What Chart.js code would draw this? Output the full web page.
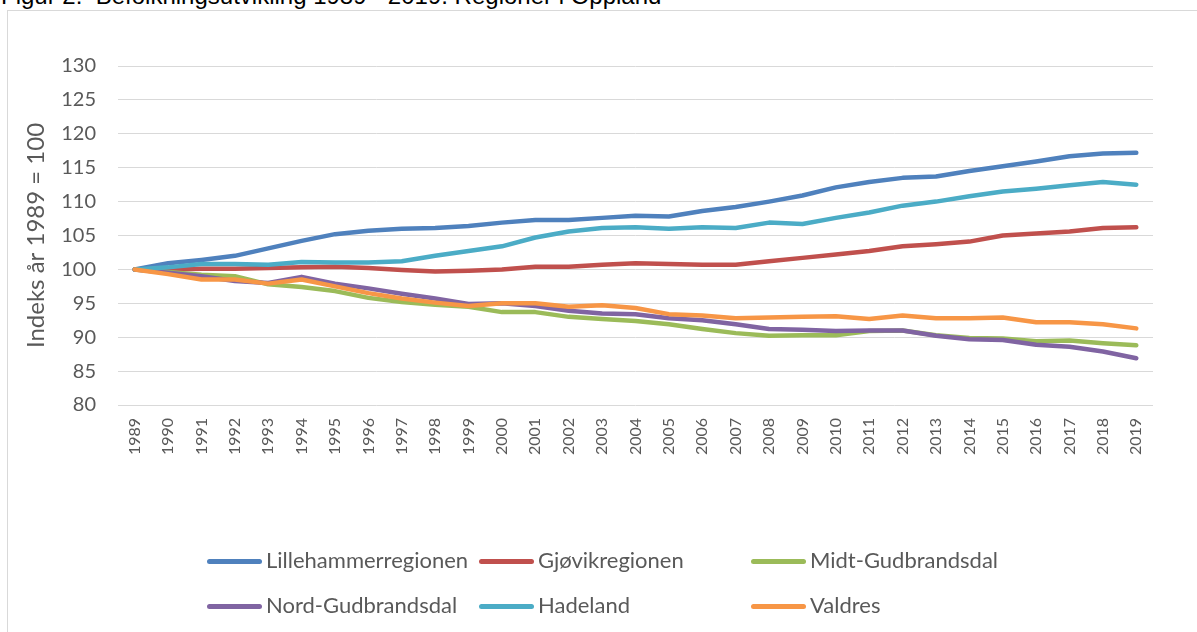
<!DOCTYPE html>
<html>
<head>
<meta charset="utf-8">
<script src="https://cdn.jsdelivr.net/npm/chart.js@4.4.1/dist/chart.umd.min.js"></script>
<style>
  html, body { margin: 0; padding: 0; background: #fff; overflow: hidden; }
  #wrap { position: relative; width: 1197px; height: 632px; }
  #frame { position: absolute; left: 7px; top: 10px; width: 1200px; height: 640px; border: 1px solid #d9d9d9; box-sizing: border-box; }
  #title { position: absolute; left: 1px; top: -16px; font: 24px "Liberation Sans", Arial, sans-serif; line-height: 1; color: #000; white-space: pre; }
  #chart { position: absolute; left: 0; top: 0; }
  #legend { position: absolute; left: 207px; top: 544px; font: 22px Lato, sans-serif; color: #595959; }
  .item { position: absolute; white-space: nowrap; height: 32px; line-height: 32px; }
  .item i { display: inline-block; width: 55px; height: 5px; border-radius: 3px; vertical-align: middle; margin-right: 4px; position: relative; top: -1px; }
</style>
</head>
<body>
<div id="wrap">
  <div id="frame"></div>
  <div id="title">Figur 2:  Befolkningsutvikling 1989 - 2019. Regioner i Oppland</div>
  <canvas id="chart" width="1197" height="632"></canvas>
  <div id="legend"></div>
</div>
<script>
// years on the category axis
var years = ['1989','1990','1991','1992','1993','1994','1995','1996','1997','1998','1999','2000',
  '2001','2002','2003','2004','2005','2006','2007','2008','2009','2010','2011','2012','2013',
  '2014','2015','2016','2017','2018','2019'];

var lillehammer = [100,100.9,101.4,102.0,103.1,104.2,105.2,105.7,106.0,106.1,106.4,106.9,107.3,107.3,107.6,107.9,107.8,108.6,109.2,110.0,110.9,112.1,112.9,113.5,113.7,114.5,115.2,115.9,116.7,117.1,117.2];
var gjovik = [100,100.0,100.1,100.1,100.2,100.3,100.4,100.2,99.9,99.7,99.8,100.0,100.4,100.4,100.7,100.9,100.8,100.7,100.7,101.2,101.7,102.2,102.7,103.4,103.7,104.1,105.0,105.3,105.6,106.1,106.2];
var midtGudbrandsdal = [100,99.6,99.2,99.0,97.8,97.4,96.8,95.8,95.2,94.8,94.5,93.7,93.7,93.0,92.7,92.4,91.9,91.2,90.6,90.2,90.3,90.3,90.9,91.0,90.3,89.9,89.8,89.4,89.5,89.1,88.8];
var nordGudbrandsdal = [100,99.5,99.0,98.3,98.0,98.9,97.9,97.2,96.4,95.7,94.9,95.0,94.6,93.9,93.5,93.4,92.8,92.5,91.9,91.2,91.1,90.9,91.0,91.0,90.2,89.7,89.6,88.9,88.6,87.9,86.9];
var hadeland = [100,100.3,100.8,100.8,100.7,101.1,101.0,101.0,101.2,102.0,102.7,103.4,104.7,105.6,106.1,106.2,106.0,106.2,106.1,106.9,106.7,107.6,108.4,109.4,110.0,110.8,111.5,111.9,112.4,112.9,112.5];
var valdres = [100,99.3,98.5,98.5,97.9,98.5,97.5,96.5,95.7,95.1,94.6,95.0,95.0,94.5,94.7,94.3,93.4,93.2,92.8,92.9,93.0,93.1,92.7,93.2,92.8,92.8,92.9,92.2,92.2,91.9,91.3];

var seriesNames = ['Lillehammerregionen','Gjøvikregionen','Midt-Gudbrandsdal','Nord-Gudbrandsdal','Hadeland','Valdres'];
var seriesData = [lillehammer, gjovik, midtGudbrandsdal, nordGudbrandsdal, hadeland, valdres];
var colors = ['#4F81BD','#C0504D','#9BBB59','#8064A2','#4BACC6','#F79646'];

var datasets = seriesNames.map(function (name, i) {
  return {
    label: name,
    data: seriesData[i],
    borderColor: colors[i],
    backgroundColor: colors[i],
    borderWidth: 4.5,
    pointRadius: 0,
    borderCapStyle: 'round',
    borderJoinStyle: 'round',
    tension: 0,
    order: seriesNames.length - i
  };
});

var txt = '#595959';
var ctx = document.getElementById('chart').getContext('2d');
var chart = new Chart(ctx, {
  type: 'line',
  data: { labels: years, datasets: datasets },
  options: {
    responsive: false,
    animation: false,
    layout: { padding: { left: 0, right: 44, top: 66, bottom: 177 } },
    plugins: { legend: { display: false }, tooltip: { enabled: false } },
    scales: {
      x: {
        offset: true,
        grid: { display: false, drawTicks: false },
        border: { display: false },
        ticks: { color: txt, font: { family: 'Lato', size: 16 }, minRotation: 90, maxRotation: 90, padding: 13, autoSkip: false },
        afterFit: function (s) { s.height = 50; }
      },
      y: {
        min: 80, max: 130,
        grid: { color: '#d9d9d9', lineWidth: 1, drawTicks: false },
        border: { display: false },
        ticks: { stepSize: 5, color: txt, font: { family: 'Lato', size: 20 }, padding: 22 },
        title: { display: true, text: 'Indeks år 1989 = 100', color: txt, font: { family: 'Lato', size: 24 }, padding: { top: 22, bottom: 0 } },
        afterFit: function (s) { s.width = 118; }
      }
    }
  }
});

// legend in three columns, as in the source
var legend = document.getElementById('legend');
seriesNames.forEach(function (name, i) {
  var d = document.createElement('div');
  d.className = 'item';
  d.style.left = (i % 3) * 272 + 'px';
  d.style.top = Math.floor(i / 3) * 45 + 'px';
  d.innerHTML = '<i style="background:' + colors[i] + '"></i>' + name;
  legend.appendChild(d);
});
</script>
</body>
</html>
